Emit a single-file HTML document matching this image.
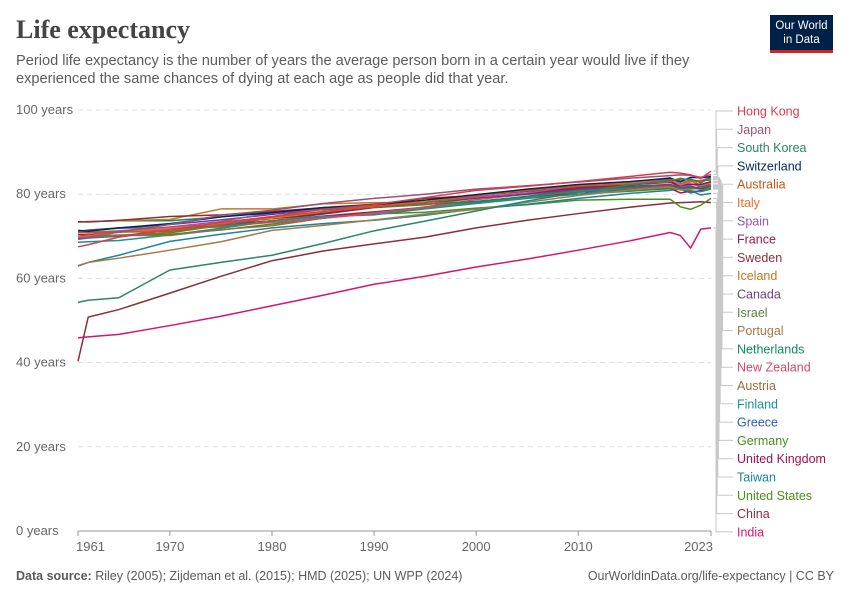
<!DOCTYPE html>
<html><head><meta charset="utf-8"><style>
body{margin:0;background:#fff;font-family:"Liberation Sans",sans-serif;}
#wrap{position:relative;width:850px;height:600px;overflow:hidden;}
.t{position:absolute;white-space:nowrap;}
</style></head><body>
<div id="wrap">
<div class="t" style="left:16px;top:15px;font-family:'Liberation Serif',serif;font-size:26px;font-weight:bold;color:#444;">Life expectancy</div>
<div class="t" style="left:16px;top:52px;font-size:14.6px;line-height:18px;color:#5b5b5b;white-space:normal;width:720px;">Period life expectancy is the number of years the average person born in a certain year would live if they experienced the same chances of dying at each age as people did that year.</div>
<div style="position:absolute;left:770px;top:15px;width:63px;height:38px;background:#002147;border-bottom:3px solid #ce261e;color:#fff;font-size:11.5px;line-height:14px;text-align:center;padding-top:4px;box-sizing:border-box;">Our World<br>in Data</div>
<svg id="chart" width="850" height="600" style="position:absolute;left:0;top:0"></svg>
<div class="t" style="left:16px;top:569px;font-size:12.5px;color:#5b5b5b;"><b>Data source:</b> Riley (2005); Zijdeman et al. (2015); HMD (2025); UN WPP (2024)</div>
<div class="t" style="right:16px;top:569px;font-size:12.5px;color:#5b5b5b;">OurWorldinData.org/life-expectancy | CC BY</div>
</div>
<script>
const years=[1961,1962,1965,1970,1975,1980,1985,1990,1995,2000,2005,2010,2015,2019,2020,2021,2022,2023];
const countries=["Hong Kong","Japan","South Korea","Switzerland","Australia","Italy","Spain","France","Sweden","Iceland","Canada","Israel","Portugal","Netherlands","New Zealand","Austria","Finland","Greece","Germany","United Kingdom","Taiwan","United States","China","India"];
const colors=["#d73c50","#9a5276","#2c8465","#00295b","#c05917","#e56e2d","#8c5bb0","#a2134e","#883039","#c4762a","#6d3e91","#578145","#a57a4a","#0f8a63","#cf4c67","#996d39","#1a8f9f","#3360a9","#4c8b26","#a2124e","#18869b","#4d8f1b","#883039","#d6156e"];
const hongKong=[67.5,68,69.8,71.5,73.3,74.7,76.4,77.5,79.2,80.9,81.9,83,84.2,85.2,85,84.6,83.7,85.5];
const japan=[69.5,69.8,71,72.8,75,76.2,77.8,79,80,81.2,82,82.9,83.8,84.4,84.6,84.5,84,84.7];
const southKorea=[54.3,54.8,55.4,62,63.8,65.5,68.3,71.3,73.6,76,78.4,80.4,82.2,83.4,83.5,83.6,82.7,84];
const switzerland=[71.4,71.2,72,73,74.6,75.6,76.8,77.5,78.6,79.9,81.2,82.3,83,83.8,83,84,83.9,84.2];
const australia=[70.9,70.9,71,71.1,72.8,74.6,75.9,77,78,79.6,81,81.9,82.4,83,83.8,83.3,83.1,83.6];
const italy=[69.9,70.1,71,71.9,73,74.3,75.8,77.1,78.2,79.8,80.9,82,82.6,83.5,82.2,82.9,83,83.7];
const spain=[69.7,70,71.3,72.2,73.5,75.6,76.5,77,78.1,79.3,80.3,82,82.8,83.9,82.4,83.3,83.2,84];
const france=[70.4,70.3,71,72,73,74.2,75.3,76.9,78,79.1,80.2,81.5,82.3,82.8,82.1,82.4,82.3,83];
const sweden=[73.5,73.4,73.8,74.7,75.1,75.9,76.8,77.6,79,79.7,80.7,81.5,82.2,83.1,82.4,83.2,83.2,83.4];
const iceland=[73.4,73.5,73.7,74,76.5,76.5,77.7,78,78,79.6,81.2,81.9,82.5,83.2,83,83.2,82.1,82.8];
const canada=[71.3,71.4,71.9,72.8,73.9,75.2,76.4,77.3,78,79.2,80,81.2,81.9,82.3,81.7,81.7,81.3,82];
const israel=[71,71.5,72,71.9,72.2,73.7,75.3,76.8,77.5,79.1,80.3,81.6,82.2,82.9,82.6,82.3,82.4,82.1];
const portugal=[62.9,63.8,64.8,66.7,68.7,71.4,72.6,73.9,75.3,76.4,78.1,79.7,81,81.7,81,81.2,81.4,82];
const netherlands=[73.4,73.5,73.7,73.7,74.6,75.9,76.3,77,77.6,78.2,79.5,81,81.6,82.2,81.3,81.5,81.7,82];
const newZealand=[71,71,71.3,71.5,72.4,73.3,74.3,75.4,77,78.7,80,81,81.7,82,82.5,82.4,81.9,82.4];
const austria=[69.7,69.8,70.2,70.2,71.6,72.5,74.3,75.6,76.8,78.2,79.4,80.8,81.4,82,81.4,81.4,81.2,81.8];
const finland=[68.6,68.7,69,70.3,71.9,73.6,74.7,75.1,76.5,77.8,79,80,81.5,82,82.1,82,81.2,81.5];
const greece=[69.3,69.6,70,71.6,72.4,74.4,75.6,77,77.6,78.3,79.4,80.6,81.2,81.7,81.2,80.3,80.9,81.6];
const germany=[69.9,70,70.3,70.5,71.5,72.9,74.5,75.3,76.6,78,79.1,80,80.7,81.3,81.1,80.8,80.6,81.2];
const unitedKingdom=[70.9,70.8,71.1,71.9,72.6,73.7,74.8,75.8,76.9,77.9,79.1,80.5,81,81.4,80.3,80.7,80.7,81.3];
const taiwan=[63,63.8,65.5,68.8,70.5,72,73,73.8,75,76.5,77.6,79,80.2,80.9,81.3,80.9,79.8,80.2];
const unitedStates=[69.9,70,70.2,70.8,72.6,73.7,74.7,75.3,75.7,76.7,77.5,78.6,78.8,78.8,77,76.4,77.4,79];
const china=[40.3,50.8,52.6,56.5,60.5,64.2,66.5,68.2,69.8,72,73.8,75.4,76.9,77.9,78,78.1,78.2,78];
const india=[45.9,46.1,46.7,48.8,51,53.5,56,58.6,60.5,62.7,64.6,66.7,68.9,70.9,70.2,67.2,71.7,72];
const series=[hongKong,japan,southKorea,switzerland,australia,italy,spain,france,sweden,iceland,canada,israel,portugal,netherlands,newZealand,austria,finland,greece,germany,unitedKingdom,taiwan,unitedStates,china,india];
const yTicks=[0,20,40,60,80,100];
const xTicks=[1961,1970,1980,1990,2000,2010,2023];

const X0=78,X1=711,Y0=531,Y1=110;
const x=v=>X0+(v-1961)/(2023-1961)*(X1-X0);
const y=v=>Y0-v/100*(Y0-Y1);
const NS="http://www.w3.org/2000/svg";
const svg=document.getElementById('chart');
function mk(tag,attrs,parent){const e=document.createElementNS(NS,tag);for(const k in attrs)e.setAttribute(k,attrs[k]);(parent||svg).appendChild(e);return e;}

yTicks.forEach(t=>{
  if(t>0){const g=mk('line',{x1:X0,x2:X1,y1:y(t),y2:y(t),stroke:'#dddddd','stroke-dasharray':'5,4'});
  
  }
  const l=mk('text',{x:16,y:y(t)+4,'font-size':13,fill:'#666','font-family':'Liberation Sans, sans-serif'});
  l.textContent=t+' years';
  
  
});
const ax=mk('line',{x1:X0,x2:X1,y1:Y0,y2:Y0,stroke:'#999'});


xTicks.forEach((t,i)=>{
  mk('line',{x1:x(t),x2:x(t),y1:Y0,y2:Y0+5,stroke:'#999'});
  const anchor=i==0?'start':(i==xTicks.length-1?'end':'middle');
  const l=mk('text',{x:i==0?x(t)-2:(i==xTicks.length-1?x(t)+2:x(t)),y:Y0+20,'font-size':13,fill:'#666','text-anchor':anchor,'font-family':'Liberation Sans, sans-serif'});
  l.textContent=t;
  
  
});
for(let i=series.length-1;i>=0;i--){
  const pts=series[i].map((v,j)=>x(years[j])+','+y(v)).join(' ');
  const p=mk('polyline',{points:pts,fill:'none',stroke:colors[i],'stroke-width':1.5,'stroke-linejoin':'round'});
  
  
}
countries.forEach((c,i)=>{
  const ly=111+i*18.3;
  const ey=y(series[i][series[i].length-1]);
  const bx=716+ (i<12? i*0.6 : (23-i)*0.6);
  const cl=mk('polyline',{points:`${X1+2},${ey} ${bx},${ey} ${bx},${ly} ${733},${ly}`,fill:'none',stroke:'#c8c8c8','stroke-width':1});
  
  
  const t=mk('text',{x:737,y:ly+4.5,'font-size':12.5,fill:colors[i],'font-family':'Liberation Sans, sans-serif'});
  t.textContent=c;
  
  
});
</script>
</body></html>
